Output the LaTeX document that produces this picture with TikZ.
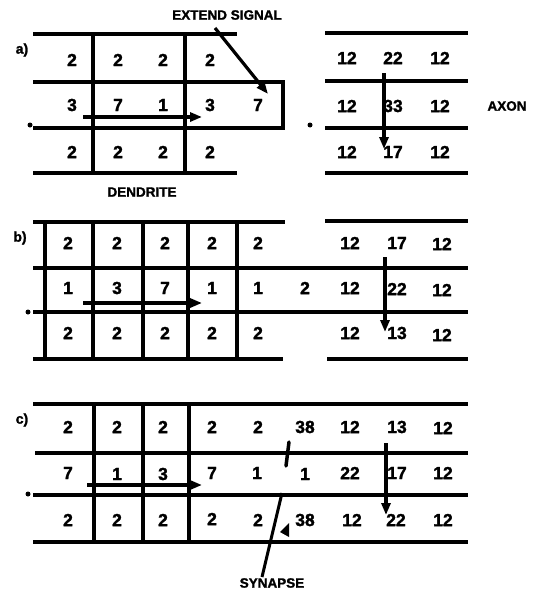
\documentclass[tikz,border=0pt]{standalone}
\usepackage{fontspec}
\setmainfont{Liberation Sans}[BoldFeatures={FakeBold=1.6}]
\usetikzlibrary{arrows.meta}
\begin{document}
\begin{tikzpicture}[x=1pt,y=-1pt,
  gridline/.style={line width=3.2pt},
  num/.style={font=\fontsize{17.5}{19}\selectfont\bfseries, inner sep=0pt},
  lbl/.style={font=\fontsize{13.5}{15}\selectfont\bfseries, inner sep=0pt},
  plbl/.style={font=\fontsize{14}{16}\selectfont\bfseries, inner sep=0pt},
  sig/.style={line width=3.2pt, -{Triangle[length=12pt,width=9pt]}},
  dotmark/.style={fill=black, circle, inner sep=0pt, minimum size=5pt},
]
\useasboundingbox (0,0) rectangle (545,594);

% ---------------- panel a ----------------
\draw[gridline] (33,34) -- (237,34);
\draw[gridline] (33,82) -- (283,82) -- (283,128) -- (33,128);
\draw[gridline] (33,173) -- (237,173);
\draw[gridline] (93,34) -- (93,173);
\draw[gridline] (185,34) -- (185,173);
\draw[gridline] (325,33) -- (468,33);
\draw[gridline] (325,81) -- (468,81);
\draw[gridline] (325,128) -- (468,128);
\draw[gridline] (325,173) -- (468,173);

\foreach \x/\y/\t/\n in {72/60/2/a11,118/60/2/a12,163/60/2/a13,210/60/2/a14,
  347/58/12/a16,393/58/22/a17,440/58/12/a18,
  72/105/3/a21,118/105/7/a22,163/105/1/a23,210/105/3/a24,258/105/7/a25,
  347/106/12/a26,393/106/33/a27,440/106/12/a28,
  72/152/2/a31,118/152/2/a32,163/152/2/a33,210/152/2/a34,
  347/152/12/a36,393/152/17/a37,440/152/12/a38}
  \node[num] (\n) at (\x,\y) {\t};

\node[plbl] (la) at (22,50) {a)};
\node[lbl] (es) at (227,15) {EXTEND SIGNAL};
\node[lbl] (den) at (142,192) {DENDRITE};
\node[lbl] (axon) at (507,106) {AXON};
\node[dotmark] (ad1) at (30,125) {};
\node[dotmark] (ad2) at (310,125) {};

\coordinate (esA) at (215,28);
\coordinate (esB) at (268,94);
\draw[sig] (esA) -- (esB);
\coordinate (ahA) at (83,117);
\coordinate (ahB) at (202,117);
\draw[sig] (ahA) -- (ahB);
\coordinate (avA) at (384,73);
\coordinate (avB) at (384,149);
\draw[sig] (avA) -- (avB);

% ---------------- panel b ----------------
\draw[gridline] (33,222) -- (285,222);
\draw[gridline] (325,221) -- (468,221);
\draw[gridline] (33,268) -- (468,268);
\draw[gridline] (33,312) -- (468,312);
\draw[gridline] (33,359) -- (283,359);
\draw[gridline] (327,359) -- (468,359);
\foreach \x in {45,93,143,188,237}
  \draw[gridline] (\x,222) -- (\x,359);

\foreach \x/\y/\t/\n in {68/243/2/b11,117/243/2/b12,165/243/2/b13,212/243/2/b14,258/243/2/b15,
  350/243/12/b17,397/243/17/b18,442/244/12/b19,
  68/288/1/b21,117/288/3/b22,165/288/7/b23,212/288/1/b24,258/288/1/b25,
  305/288/2/b26,350/288/12/b27,397/289/22/b28,442/290/12/b29,
  68/333/2/b31,117/333/2/b32,165/333/2/b33,212/333/2/b34,258/333/2/b35,
  350/333/12/b37,397/333/13/b38,442/335/12/b39}
  \node[num] (\n) at (\x,\y) {\t};

\node[plbl] (lb) at (20,238) {b)};
\node[dotmark] (bd1) at (28,312) {};

\coordinate (bhA) at (83,303);
\coordinate (bhB) at (202,303);
\draw[sig] (bhA) -- (bhB);
\coordinate (bvA) at (385,257);
\coordinate (bvB) at (385,332);
\draw[sig] (bvA) -- (bvB);

% ---------------- panel c ----------------
\draw[gridline] (33,404) -- (468,404);
\draw[gridline] (35,453) -- (468,453);
\draw[gridline] (33,495) -- (468,495);
\draw[gridline] (33,542) -- (468,542);
\foreach \x in {94,143,189}
  \draw[gridline] (\x,404) -- (\x,542);

\foreach \x/\y/\t/\n in {68/427/2/c11,117/427/2/c12,163/427/2/c13,212/427/2/c14,258/427/2/c15,
  305/427/38/c16,350/427/12/c17,397/427/13/c18,443/428/12/c19,
  68/473/7/c21,117/474/1/c22,163/474/3/c23,212/473/7/c24,257/473/1/c25,
  305/474/1/c26,350/473/22/c27,397/473/17/c28,443/473/12/c29,
  68/520/2/c31,117/520/2/c32,163/520/2/c33,212/519/2/c34,258/520/2/c35,
  305/520/38/c36,352/520/12/c37,396/520/22/c38,443/520/12/c39}
  \node[num] (\n) at (\x,\y) {\t};

\node[plbl] (lc) at (22,420) {c)};
\node[dotmark] (cd1) at (28,494) {};

\coordinate (chA) at (87,485);
\coordinate (chB) at (202,485);
\draw[sig] (chA) -- (chB);
\coordinate (cvA) at (386,443);
\coordinate (cvB) at (386,515);
\draw[sig] (cvA) -- (cvB);

% synapse marks
\draw[line width=3.5pt, line cap=round] (289,442) -- (286,466);
\fill (289,523) -- (289,537) -- (280,532) -- cycle;
\node[lbl] (syn) at (272,583) {SYNAPSE};
\coordinate (synTop) at (282,493);
\draw[line width=3pt] (syn.north) ++(-10,-1) -- (synTop);

\end{tikzpicture}
\end{document}
